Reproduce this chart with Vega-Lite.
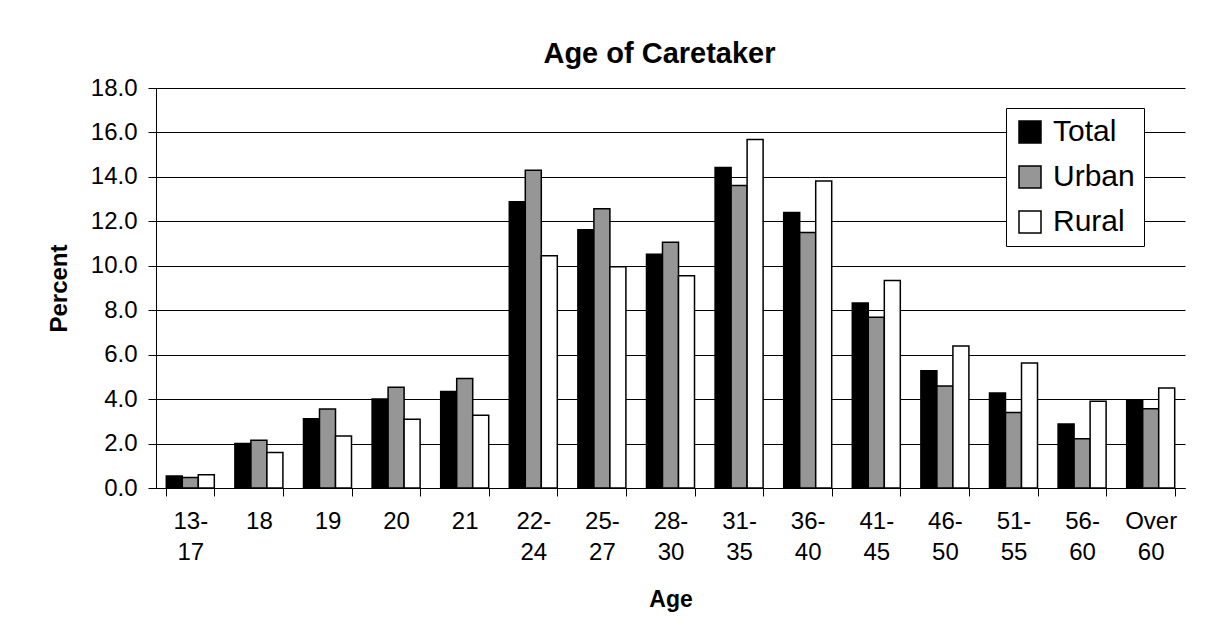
{
  "$schema": "https://vega.github.io/schema/vega-lite/v6.json",
  "autosize": "none",
  "width": 1029,
  "height": 400,
  "padding": {"left": 156, "top": 88, "right": 35, "bottom": 149},
  "background": "white",
  "title": {
    "text": "Age of Caretaker",
    "font": "Liberation Sans",
    "fontSize": 29,
    "fontWeight": "bold",
    "color": "black",
    "baseline": "bottom",
    "offset": 19,
    "dx": -11,
    "dy": 41
  },
  "data": {
    "values": [
      {"age": "13-17", "area": "Total", "percent": 0.54},
      {"age": "13-17", "area": "Urban", "percent": 0.47},
      {"age": "13-17", "area": "Rural", "percent": 0.6},
      {"age": "18", "area": "Total", "percent": 2.0},
      {"age": "18", "area": "Urban", "percent": 2.15},
      {"age": "18", "area": "Rural", "percent": 1.6},
      {"age": "19", "area": "Total", "percent": 3.12},
      {"age": "19", "area": "Urban", "percent": 3.56},
      {"age": "19", "area": "Rural", "percent": 2.34},
      {"age": "20", "area": "Total", "percent": 4.0},
      {"age": "20", "area": "Urban", "percent": 4.53},
      {"age": "20", "area": "Rural", "percent": 3.09},
      {"age": "21", "area": "Total", "percent": 4.34},
      {"age": "21", "area": "Urban", "percent": 4.93},
      {"age": "21", "area": "Rural", "percent": 3.27},
      {"age": "22-24", "area": "Total", "percent": 12.88},
      {"age": "22-24", "area": "Urban", "percent": 14.3},
      {"age": "22-24", "area": "Rural", "percent": 10.45},
      {"age": "25-27", "area": "Total", "percent": 11.62},
      {"age": "25-27", "area": "Urban", "percent": 12.57},
      {"age": "25-27", "area": "Rural", "percent": 9.96},
      {"age": "28-30", "area": "Total", "percent": 10.52},
      {"age": "28-30", "area": "Urban", "percent": 11.06},
      {"age": "28-30", "area": "Rural", "percent": 9.55},
      {"age": "31-35", "area": "Total", "percent": 14.42},
      {"age": "31-35", "area": "Urban", "percent": 13.61},
      {"age": "31-35", "area": "Rural", "percent": 15.68},
      {"age": "36-40", "area": "Total", "percent": 12.4},
      {"age": "36-40", "area": "Urban", "percent": 11.5},
      {"age": "36-40", "area": "Rural", "percent": 13.81},
      {"age": "41-45", "area": "Total", "percent": 8.32},
      {"age": "41-45", "area": "Urban", "percent": 7.68},
      {"age": "41-45", "area": "Rural", "percent": 9.34},
      {"age": "46-50", "area": "Total", "percent": 5.28},
      {"age": "46-50", "area": "Urban", "percent": 4.59},
      {"age": "46-50", "area": "Rural", "percent": 6.39},
      {"age": "51-55", "area": "Total", "percent": 4.27},
      {"age": "51-55", "area": "Urban", "percent": 3.4},
      {"age": "51-55", "area": "Rural", "percent": 5.62},
      {"age": "56-60", "area": "Total", "percent": 2.88},
      {"age": "56-60", "area": "Urban", "percent": 2.22},
      {"age": "56-60", "area": "Rural", "percent": 3.9},
      {"age": "Over 60", "area": "Total", "percent": 3.96},
      {"age": "Over 60", "area": "Urban", "percent": 3.57},
      {"age": "Over 60", "area": "Rural", "percent": 4.5}
    ]
  },
  "mark": {"type": "bar", "stroke": "black", "strokeWidth": 1.5},
  "encoding": {
    "x": {
      "field": "age",
      "type": "nominal",
      "sort": null,
      "scale": {"paddingInner": 0.3, "paddingOuter": 0.15},
      "axis": {
        "title": "Age",
        "titleFont": "Liberation Sans",
        "titleFontSize": 23,
        "titleFontWeight": "bold",
        "titleColor": "black",
        "titlePadding": 24,
        "labelAngle": 0,
        "labelExpr": "isValid(datum.value) ? split(replace(datum.value, '-', '- '), ' ') : ''",
        "labelFont": "Liberation Sans",
        "labelFontSize": 24,
        "labelColor": "black",
        "labelLineHeight": 31,
        "labelPadding": 13,
        "tickSize": 8,
        "tickColor": "black",
        "tickBand": "extent",
        "domainColor": "black",
        "grid": false
      }
    },
    "xOffset": {
      "field": "area",
      "type": "nominal",
      "scale": {"domain": ["Total", "Urban", "Rural"]}
    },
    "y": {
      "field": "percent",
      "type": "quantitative",
      "scale": {"domain": [0, 18], "nice": false},
      "axis": {
        "title": "Percent",
        "titleFont": "Liberation Sans",
        "titleFontSize": 24,
        "titleFontWeight": "bold",
        "titleColor": "black",
        "titlePadding": 19,
        "values": [0, 2, 4, 6, 8, 10, 12, 14, 16, 18],
        "format": ".1f",
        "labelFont": "Liberation Sans",
        "labelFontSize": 24,
        "labelColor": "black",
        "labelPadding": 11,
        "tickSize": 8,
        "tickColor": "black",
        "domainColor": "black",
        "gridColor": "black",
        "gridWidth": 1,
        "gridOpacity": 1
      }
    },
    "fill": {
      "field": "area",
      "type": "nominal",
      "scale": {"domain": ["Total", "Urban", "Rural"], "range": ["#000000", "#969696", "#ffffff"]},
      "legend": {
        "title": null,
        "orient": "none",
        "legendX": 850,
        "legendY": 20,
        "strokeColor": "black",
        "fillColor": "white",
        "padding": 9,
        "symbolType": "square",
        "symbolSize": 484,
        "symbolStrokeColor": "black",
        "symbolStrokeWidth": 1.5,
        "symbolOpacity": 1,
        "labelFont": "Liberation Sans",
        "labelFontSize": 30,
        "labelColor": "black",
        "labelOffset": 8,
        "rowPadding": 15
      }
    }
  },
  "config": {
    "view": {"stroke": null}
  }
}
